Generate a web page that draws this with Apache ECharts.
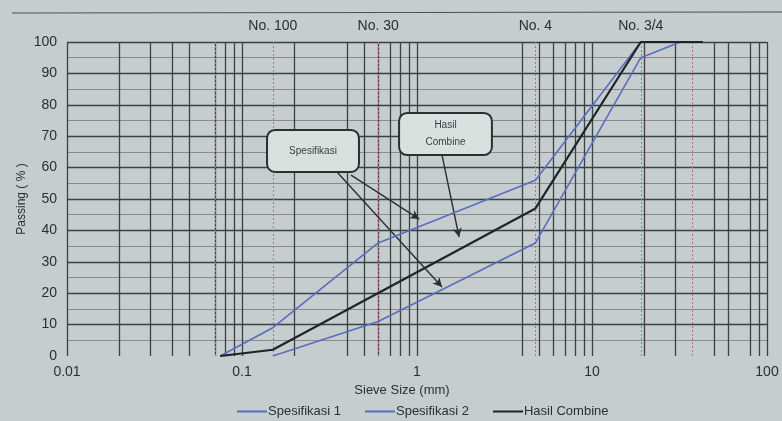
<!DOCTYPE html>
<html>
<head>
<meta charset="utf-8">
<script src="https://cdn.jsdelivr.net/npm/echarts@6/dist/echarts.min.js"></script>
<style>
html,body{margin:0;padding:0;background:#c5cdcf;}
#chart{width:782px;height:421px;}
</style>
</head>
<body>
<div id="chart"></div>
<script>
// ---- data ----
var seriesNames = ['Spesifikasi 1', 'Spesifikasi 2', 'Hasil Combine'];
var spec1X = [0.075, 0.15, 0.6, 4.75, 19, 43];
var spec1Y = [0, 9, 36, 56, 100, 100];
var spec2X = [0.15, 0.6, 4.75, 19, 32];
var spec2Y = [0, 11, 36, 95, 100];
var combX = [0.075, 0.15, 4.75, 19, 43];
var combY = [0, 2, 47, 100, 100];

// grid lines of the sieve paper (log minor lines that are drawn)
var minorGridX = [0.02, 0.03, 0.04, 0.05, 0.07, 0.08, 0.09,
                  0.2, 0.4, 0.5, 0.6, 0.7, 0.8, 0.9,
                  4, 5, 6, 7, 8, 9,
                  20, 30, 50, 60, 80, 90];
// sieve openings (red dashed) and their labels
var sieveX = [0.075, 0.15, 0.6, 4.75, 19, 37.5];
var sieveLabels = ['', 'No. 100', 'No. 30', 'No. 4', 'No. 3/4', ''];

// annotation callouts (data coordinates)
var arrowLines = [
  [[0.349, 58.6], [1.39, 22]],
  [[0.42, 57.6], [1.03, 43.6]],
  [[1.39, 64], [1.74, 37.9]]
];
var boxes = [
  {text: 'Spesifikasi', from: [0.139, 72], to: [0.466, 58.6]},
  {text: 'Hasil\nCombine', from: [0.79, 77.4], to: [2.68, 64]}
];

function zip(xs, ys) { return xs.map(function (x, i) { return [x, ys[i]]; }); }

var gridColor = '#394245';
var blue = '#5b6dbd';
var black = '#1f2527';
var font = 'Liberation Sans, Arial, sans-serif';

var chart = echarts.init(document.getElementById('chart'));

var ySplitColors = ['rgba(0,0,0,0)'];
for (var i = 0; i < 10; i++) ySplitColors.push(gridColor);

var option = {
  backgroundColor: '#c5cdcf',
  animation: false,
  grid: {left: 67, right: 15, top: 42, bottom: 65},
  legend: {
    data: seriesNames,
    left: 232, top: 400,
    icon: 'rect', itemWidth: 30, itemHeight: 2, itemGap: 24,
    textStyle: {fontFamily: font, fontSize: 13, color: '#2b2f33', padding: [0, 0, 0, -4]}
  },
  xAxis: {
    type: 'log', logBase: 10, min: 0.01, max: 100,
    name: 'Sieve Size (mm)', nameLocation: 'middle', nameGap: 24,
    nameTextStyle: {fontFamily: font, fontSize: 13, color: '#2b2f33', padding: [0, 30, 0, 0]},
    axisLine: {show: false}, axisTick: {show: false},
    axisLabel: {fontFamily: font, fontSize: 14, color: '#2b2f33', margin: 9,
      formatter: function (v) { return String(v); }},
    splitLine: {show: true, lineStyle: {color: gridColor, width: 1.3}}
  },
  yAxis: {
    type: 'value', min: 0, max: 100, interval: 10,
    name: 'Passing ( % )', nameLocation: 'middle', nameGap: 39, nameMoveOverlap: false,
    nameTextStyle: {fontFamily: font, fontSize: 12, color: '#2b2f33'},
    axisLine: {show: false}, axisTick: {show: false},
    axisLabel: {fontFamily: font, fontSize: 14, color: '#2b2f33', margin: 10},
    splitLine: {show: true, lineStyle: {color: ySplitColors, width: 1.3}},
    minorTick: {show: false, splitNumber: 2},
    minorSplitLine: {show: true, lineStyle: {color: '#94868c', width: 1}}
  },
  series: [
    {
      name: seriesNames[0], type: 'line', data: zip(spec1X, spec1Y),
      symbol: 'none', lineStyle: {color: blue, width: 1.6}, itemStyle: {color: blue}, z: 5
    },
    {
      name: seriesNames[1], type: 'line', data: zip(spec2X, spec2Y),
      symbol: 'none', lineStyle: {color: blue, width: 1.6}, itemStyle: {color: blue}, z: 5
    },
    {
      name: seriesNames[2], type: 'line', data: zip(combX, combY),
      symbol: 'none', lineStyle: {color: black, width: 2.2}, itemStyle: {color: black}, z: 6
    },
    {
      name: 'grid-minor', type: 'line', data: [], silent: true, z: 1,
      markLine: {
        silent: true, symbol: 'none', animation: false,
        label: {show: false},
        lineStyle: {color: gridColor, width: 1.3, type: 'solid'},
        data: minorGridX.map(function (v) { return {xAxis: v}; })
      }
    },
    {
      name: 'sieves', type: 'line', data: [], silent: true, z: 2,
      markLine: {
        silent: true, symbol: 'none', animation: false,
        lineStyle: {color: '#b3727e', width: 1, type: [2, 2]},
        label: {show: true, position: 'end', distance: 9, fontFamily: font, fontSize: 14, color: '#2b2f33',
          formatter: function (p) { return sieveLabels[p.dataIndex]; }},
        data: sieveX.map(function (v) { return {xAxis: v}; })
      }
    },
    {
      name: 'arrows', type: 'line', data: [], silent: true, z: 8,
      markLine: {
        silent: true, symbol: ['none', 'arrow'], symbolSize: [7, 9], animation: false,
        label: {show: false},
        lineStyle: {color: '#2a3032', width: 1.4, type: 'solid'},
        data: arrowLines.map(function (l) { return [{coord: l[0]}, {coord: l[1]}]; })
      }
    }
  ],
  graphic: [
    {type: 'line', shape: {x1: 12, y1: 13, x2: 782, y2: 12}, style: {stroke: '#4a5256', lineWidth: 1.2}}
  ]
};
chart.setOption(option);

// callout boxes placed through the chart's own scales
var g = option.graphic.slice();
boxes.forEach(function (b) {
  var p1 = chart.convertToPixel({gridIndex: 0}, b.from);
  var p2 = chart.convertToPixel({gridIndex: 0}, b.to);
  var w = p2[0] - p1[0], h = p2[1] - p1[1];
  g.push({
    type: 'rect', z: 20,
    shape: {x: p1[0], y: p1[1], width: w, height: h, r: 8},
    style: {fill: '#d9e0de', stroke: '#2a3032', lineWidth: 2}
  });
  g.push({
    type: 'text', z: 21,
    x: p1[0] + w / 2, y: p1[1] + h / 2,
    style: {text: b.text, fill: '#3a4044', font: '10px ' + font, align: 'center', verticalAlign: 'middle', lineHeight: 17}
  });
});
chart.setOption({graphic: g});
</script>
</body>
</html>
